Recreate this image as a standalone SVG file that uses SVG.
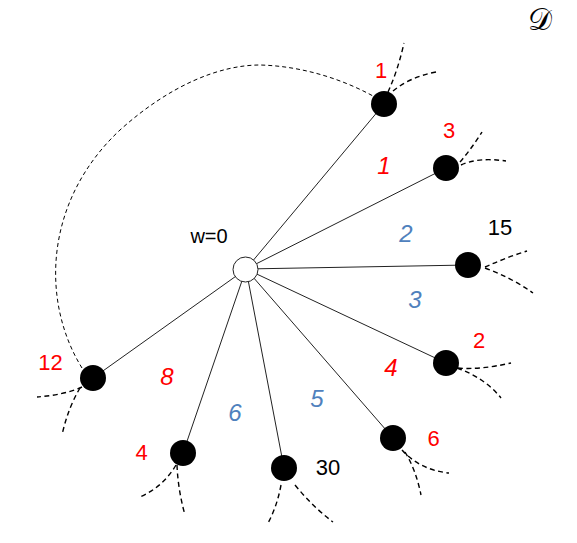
<svg xmlns="http://www.w3.org/2000/svg" width="577" height="543" viewBox="0 0 577 543">
<style>
.spoke{stroke:#222;stroke-width:1;fill:none}
.arc{stroke:#000;stroke-width:1;stroke-dasharray:4 3;fill:none}
.stub{stroke:#000;stroke-width:1.4;stroke-dasharray:5 3.5;fill:none}
.node{fill:#000}
.root{fill:#fff;stroke:#222;stroke-width:1}
.nl{font-family:"Liberation Sans",Arial,sans-serif;font-size:22px;text-anchor:middle}
.el{font-family:"Liberation Sans",Arial,sans-serif;font-size:24px;font-style:italic;text-anchor:middle}
.red{fill:#ff0000}
.blue{fill:#4f81bd}
.blk{fill:#000}
</style>
<rect width="577" height="543" fill="#fff"/>
<text x="540" y="30" font-family="'DejaVu Serif','Liberation Serif',serif" font-size="30" text-anchor="middle">𝒟</text>
<g id="connectors">
<line class="spoke" x1="246" y1="269" x2="384" y2="104"/>
<line class="spoke" x1="246" y1="269" x2="446" y2="168"/>
<line class="spoke" x1="246" y1="269" x2="468" y2="265"/>
<line class="spoke" x1="246" y1="269" x2="446" y2="363"/>
<line class="spoke" x1="246" y1="269" x2="393" y2="438"/>
<line class="spoke" x1="246" y1="269" x2="284" y2="468"/>
<line class="spoke" x1="246" y1="269" x2="183" y2="453"/>
<line class="spoke" x1="246" y1="269" x2="93" y2="378"/>
<path class="arc" d="M 82 368 C 40 300 45 200 120 130 C 170 85 220 65 260 65 C 300 66 340 78 373 96"/>
<path class="stub" d="M 388 92 Q 398 70 404 43"/>
<path class="stub" d="M 393 91 Q 410 77 436 72"/>
<path class="stub" d="M 460 162 Q 472 148 482 132"/>
<path class="stub" d="M 461 165 Q 478 157 506 161"/>
<path class="stub" d="M 485 267 Q 505 258 527 251"/>
<path class="stub" d="M 485 268 Q 512 278 533 293"/>
<path class="stub" d="M 458 368 Q 480 370 511 363"/>
<path class="stub" d="M 457 368 Q 485 378 501 398"/>
<path class="stub" d="M 402 450 Q 420 470 449 473"/>
<path class="stub" d="M 405 452 Q 416 470 421 495"/>
<path class="stub" d="M 281 485 Q 277 507 267 525"/>
<path class="stub" d="M 295 485 Q 313 507 333 522"/>
<path class="stub" d="M 176 465 Q 163 487 140 497"/>
<path class="stub" d="M 177 465 Q 178 490 185 515"/>
<path class="stub" d="M 82 387 Q 64 395 37 397"/>
<path class="stub" d="M 80 388 Q 68 408 62 435"/>
</g>
<g id="edge-labels">
<text class="el red" x="384" y="174">1</text>
<text class="el blue" x="406" y="242">2</text>
<text class="el blue" x="415" y="308">3</text>
<text class="el red" x="391" y="376">4</text>
<text class="el blue" x="317" y="407">5</text>
<text class="el blue" x="235" y="421">6</text>
<text class="el red" x="167" y="385">8</text>
</g>
<g id="w"><circle class="root" cx="245.5" cy="269.5" r="12.5"/><text class="nl blk" x="209" y="243" style="font-size:20px">w=0</text></g>
<g id="n1"><circle class="node" cx="384" cy="104" r="13"/><text class="nl red" x="381" y="78">1</text></g>
<g id="n3"><circle class="node" cx="446" cy="168" r="13"/><text class="nl red" x="449" y="138">3</text></g>
<g id="n15"><circle class="node" cx="468" cy="265" r="13"/><text class="nl blk" x="500" y="235">15</text></g>
<g id="n2"><circle class="node" cx="446" cy="363" r="13"/><text class="nl red" x="479" y="348">2</text></g>
<g id="n6"><circle class="node" cx="393" cy="438" r="13"/><text class="nl red" x="433.5" y="446">6</text></g>
<g id="n30"><circle class="node" cx="284" cy="468" r="13"/><text class="nl blk" x="328" y="475">30</text></g>
<g id="n4"><circle class="node" cx="183" cy="453" r="13"/><text class="nl red" x="141.5" y="460">4</text></g>
<g id="n12"><circle class="node" cx="93" cy="378" r="13"/><text class="nl red" x="50.5" y="370">12</text></g>
</svg>
